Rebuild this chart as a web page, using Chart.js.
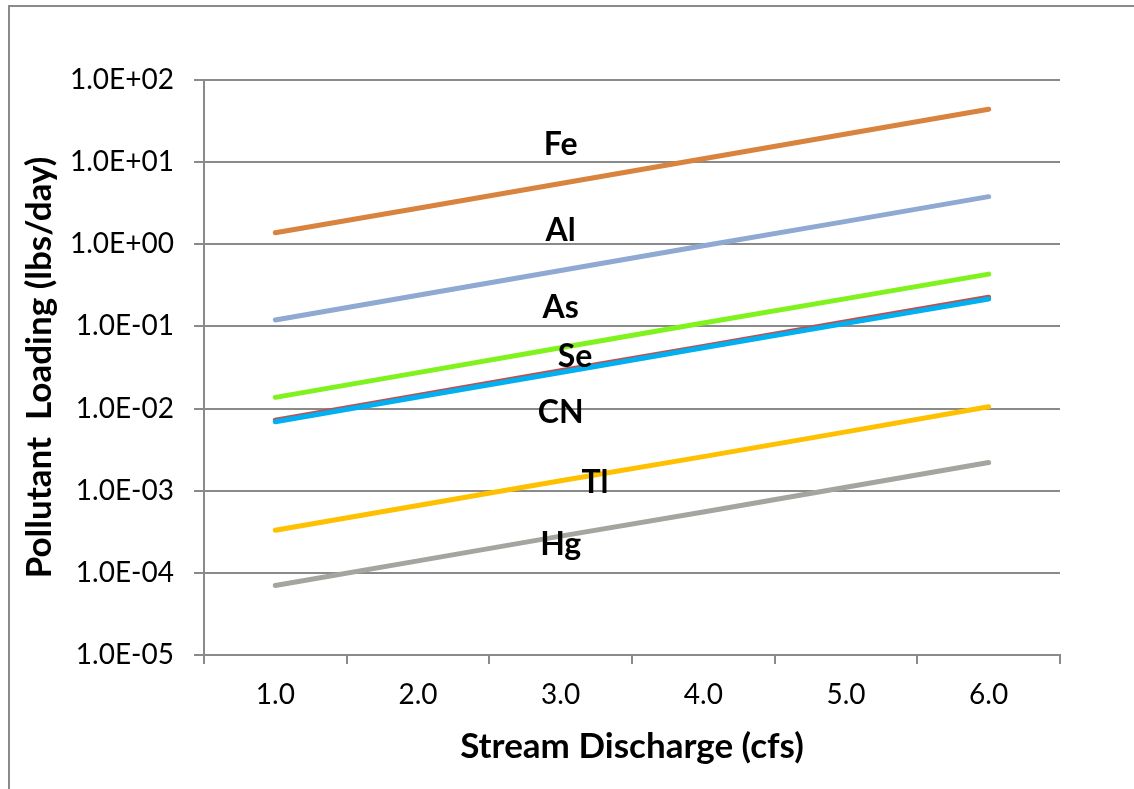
<!DOCTYPE html>
<html lang="en">
<head>
  <meta charset="UTF-8" />
  <title>Pollutant Loading vs Stream Discharge</title>
  <script src="https://cdn.jsdelivr.net/npm/chart.js"></script>
  <style>
    html, body { margin: 0; padding: 0; background: #fff; }
    #wrap { position: relative; width: 1134px; height: 789px; overflow: hidden; }
    #frame { position: absolute; left: 8px; top: 5px; width: 1200px; height: 900px;
             border-left: 2px solid #8a8a8a; border-top: 2px solid #8a8a8a; }
    canvas { position: absolute; left: 0; top: 0; }
  </style>
</head>
<body>
  <div id="wrap">
    <div id="frame"></div>
    <canvas id="loadChart" width="1134" height="789"></canvas>
  </div>

  <script>
    // Stream discharge categories (cfs)
    const discharge = ['1.0', '2.0', '3.0', '4.0', '5.0', '6.0'];

    // Pollutant loading (lbs/day)
    const fe = [1.38, 2.75, 5.5, 11.0, 22.0, 44.0];
    const al = [0.12, 0.24, 0.48, 0.96, 1.9, 3.8];
    const as = [0.0137, 0.0274, 0.055, 0.11, 0.218, 0.433];
    const se = [0.0072, 0.0144, 0.0288, 0.057, 0.114, 0.227];
    const cn = [0.0069, 0.0138, 0.0275, 0.055, 0.109, 0.216];
    const tl = [0.00033, 0.00066, 0.00132, 0.0026, 0.0052, 0.0105];
    const hg = [0.00007, 0.00014, 0.00028, 0.00055, 0.0011, 0.0022];

    // y axis decades and their labels
    const yTicks = [1e-5, 1e-4, 1e-3, 1e-2, 1e-1, 1, 10, 100];
    const yTickLabels = ['1.0E-05', '1.0E-04', '1.0E-03', '1.0E-02', '1.0E-01', '1.0E+00', '1.0E+01', '1.0E+02'];

    // series name labels placed inside the plot (category index, value)
    const seriesLabels = [
      { text: 'Fe', x: 2, y: 16.2 },
      { text: 'Al', x: 2, y: 1.46 },
      { text: 'As', x: 2, y: 0.169 },
      { text: 'Se', x: 2.1, y: 0.0428 },
      { text: 'CN', x: 2, y: 0.0089 },
      { text: 'Tl', x: 2.24, y: 0.00125 },
      { text: 'Hg', x: 2, y: 0.00022 }
    ];

    const FONT = 'Lato, "Open Sans", sans-serif';
    const GRID = '#8a8a8a';

    const nameLabels = {
      id: 'nameLabels',
      afterDatasetsDraw(chart) {
        const ctx = chart.ctx;
        const xs = chart.scales.x, ys = chart.scales.y;
        ctx.save();
        ctx.font = 'bold 32px ' + FONT;
        ctx.fillStyle = '#000';
        ctx.textAlign = 'center';
        ctx.textBaseline = 'middle';
        seriesLabels.forEach(l => {
          ctx.fillText(l.text, xs.getPixelForValue(l.x), ys.getPixelForValue(l.y));
        });
        ctx.restore();
      }
    };

    function line(label, data, color, width, order) {
      return {
        label, data,
        borderColor: color,
        backgroundColor: color,
        borderWidth: width,
        borderCapStyle: 'round',
        pointRadius: 0,
        tension: 0,
        order
      };
    }

    new Chart(document.getElementById('loadChart'), {
      type: 'line',
      data: {
        labels: discharge,
        datasets: [
          line('Fe', fe, '#d8843f', 5, 1),
          line('Al', al, '#90a9d2', 5, 1),
          line('As', as, '#80f21e', 5, 1),
          line('CN', cn, '#00b0f0', 5, 1),
          line('Se', se, '#c0504d', 5, 2),
          line('Tl', tl, '#ffc000', 5, 1),
          line('Hg', hg, '#a5a5a0', 5, 1)
        ]
      },
      options: {
        responsive: false,
        animation: false,
        layout: { padding: { left: 0, top: 80, right: 74, bottom: 0 } },
        plugins: { legend: { display: false }, tooltip: { enabled: false } },
        scales: {
          x: {
            type: 'category',
            offset: true,
            grid: { offset: true, drawOnChartArea: false, color: GRID, lineWidth: 2, tickLength: 9 },
            border: { color: GRID, width: 2 },
            ticks: { color: '#000', font: { family: FONT, size: 28 }, padding: 14, maxRotation: 0 },
            title: {
              display: true, text: 'Stream Discharge (cfs)', color: '#000',
              font: { family: FONT, size: 35, weight: 'bold' }, padding: { top: 0, bottom: 21 }
            },
            afterFit(scale) { scale.height = 789 - 655; }
          },
          y: {
            type: 'logarithmic',
            min: 1e-5,
            max: 100,
            grid: { color: GRID, lineWidth: 2, tickLength: 10 },
            border: { color: GRID, width: 2 },
            afterBuildTicks(scale) { scale.ticks = yTicks.map(v => ({ value: v, major: true })); },
            ticks: {
              color: '#000', font: { family: FONT, size: 28 }, padding: 20,
              callback: (v) => yTickLabels[yTicks.findIndex(t => Math.abs(Math.log10(t) - Math.log10(v)) < 1e-6)]
            },
            title: {
              display: true, text: 'Pollutant  Loading (lbs/day)', color: '#000',
              font: { family: FONT, size: 35, weight: 'bold' }, padding: { top: 19, bottom: 0 }
            },
            afterFit(scale) { scale.width = 204; }
          }
        }
      },
      plugins: [nameLabels]
    });
  </script>
</body>
</html>
